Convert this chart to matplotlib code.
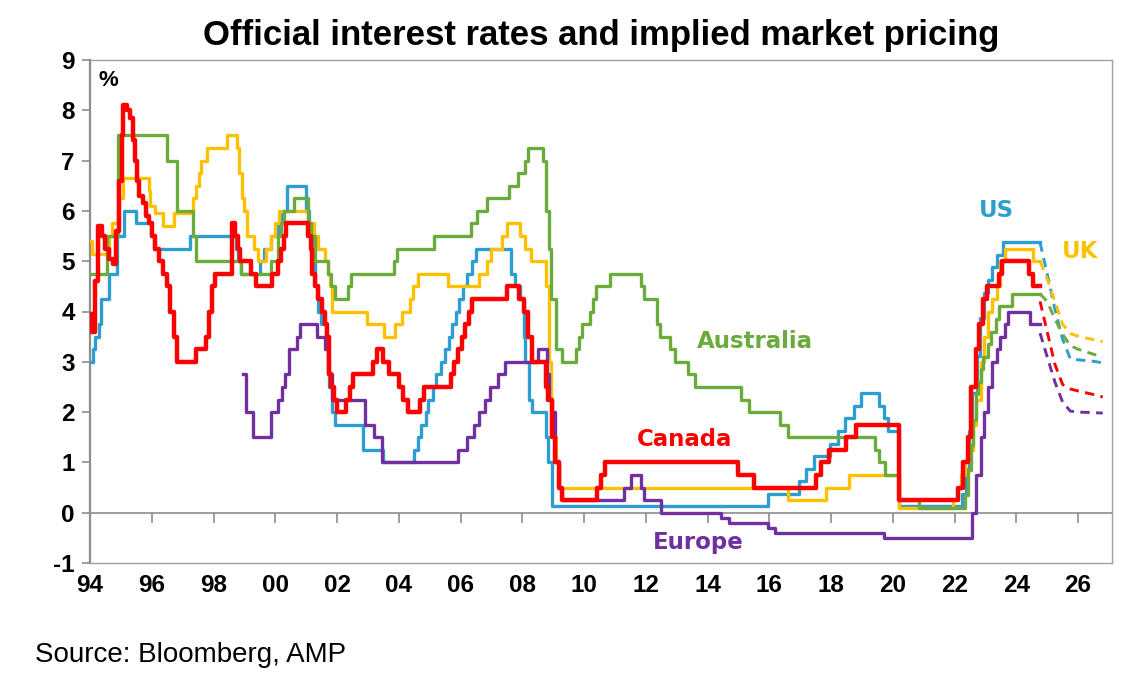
import matplotlib
matplotlib.use('Agg')
import matplotlib.pyplot as plt

plt.rcParams['axes.unicode_minus'] = False

# official rates: time (decimal year) of each change and the new level, %
us_t = [1994.0, 1994.1, 1994.17, 1994.3, 1994.37, 1994.62, 1994.87, 1995.09, 1995.5, 1995.96,
        1996.08, 1997.23, 1998.74, 1998.79, 1998.88, 1999.5, 1999.64, 1999.87, 2000.09, 2000.22,
        2000.38, 2001.0, 2001.08, 2001.22, 2001.3, 2001.38, 2001.49, 2001.64, 2001.71, 2001.75,
        2001.85, 2001.95, 2002.85, 2003.48, 2004.5, 2004.62, 2004.72, 2004.87, 2004.95, 2005.1,
        2005.22, 2005.37, 2005.5, 2005.62, 2005.72, 2005.87, 2005.95, 2006.08, 2006.22, 2006.37,
        2006.5, 2007.65, 2007.77, 2007.92, 2008.05, 2008.1, 2008.22, 2008.3, 2008.78, 2008.83,
        2008.96, 2015.96, 2016.96, 2017.2, 2017.46, 2017.96, 2018.22, 2018.46, 2018.74, 2018.96,
        2019.55, 2019.7, 2019.83, 2020.2, 2022.25, 2022.37, 2022.46, 2022.58, 2022.72, 2022.84,
        2022.96, 2023.08, 2023.22, 2023.37, 2023.58, 2024.77]
us_r = [3.0, 3.25, 3.5, 3.75, 4.25, 4.75, 5.5, 6.0, 5.75, 5.5,
        5.25, 5.5, 5.25, 5.0, 4.75, 5.0, 5.25, 5.5, 5.75, 6.0,
        6.5, 6.0, 5.5, 5.0, 4.5, 4.0, 3.75, 3.5, 3.0, 2.5,
        2.0, 1.75, 1.25, 1.0, 1.25, 1.5, 1.75, 2.0, 2.25, 2.5,
        2.75, 3.0, 3.25, 3.5, 3.75, 4.0, 4.25, 4.5, 4.75, 5.0,
        5.25, 4.75, 4.5, 4.25, 3.5, 3.0, 2.25, 2.0, 1.5, 1.0,
        0.125, 0.375, 0.625, 0.875, 1.125, 1.375, 1.625, 1.875, 2.125, 2.375,
        2.125, 1.875, 1.625, 0.125, 0.375, 0.875, 1.625, 2.375, 3.125, 3.875,
        4.375, 4.625, 4.875, 5.125, 5.375, 5.375]

uk_t = [1994.0, 1994.08, 1994.62, 1994.72, 1994.9, 1995.08, 1995.9, 1995.95, 1996.1, 1996.35,
        1996.72, 1997.32, 1997.42, 1997.52, 1997.6, 1997.8, 1998.45, 1998.75, 1998.83, 1998.92,
        1999.0, 1999.1, 1999.3, 1999.45, 1999.7, 1999.85, 2000.0, 2000.12, 2001.05, 2001.25,
        2001.38, 2001.6, 2001.7, 2001.78, 2001.85, 2002.98, 2003.52, 2003.88, 2004.1, 2004.35,
        2004.45, 2004.62, 2005.6, 2006.6, 2006.85, 2007.0, 2007.35, 2007.5, 2007.92, 2008.1,
        2008.27, 2008.77, 2008.85, 2008.93, 2009.0, 2009.1, 2009.2, 2016.6, 2017.85, 2018.58,
        2020.2, 2021.95, 2022.1, 2022.2, 2022.35, 2022.45, 2022.6, 2022.7, 2022.85, 2022.95,
        2023.1, 2023.22, 2023.37, 2023.47, 2023.62, 2024.55, 2024.77]
uk_r = [5.4, 5.15, 5.5, 5.75, 6.25, 6.65, 6.4, 6.1, 5.95, 5.7,
        5.95, 6.25, 6.5, 6.75, 7.0, 7.25, 7.5, 7.25, 6.75, 6.25,
        6.0, 5.5, 5.25, 5.0, 5.25, 5.5, 5.75, 6.0, 5.75, 5.5,
        5.25, 5.0, 4.75, 4.5, 4.0, 3.75, 3.5, 3.75, 4.0, 4.25,
        4.5, 4.75, 4.5, 4.75, 5.0, 5.25, 5.5, 5.75, 5.5, 5.25,
        5.0, 4.5, 3.0, 2.0, 1.5, 1.0, 0.5, 0.25, 0.5, 0.75,
        0.1, 0.25, 0.5, 0.75, 1.0, 1.25, 1.75, 2.25, 3.0, 3.5,
        4.0, 4.25, 4.5, 5.0, 5.25, 5.0, 5.0]

au_t = [1994.0, 1994.55, 1994.92, 1996.5, 1996.82, 1997.32, 1997.42, 1998.9, 1999.85, 2000.1,
        2000.2, 2000.28, 2000.6, 2001.05, 2001.15, 2001.3, 2001.7, 2001.8, 2001.93, 2002.35,
        2002.45, 2003.85, 2003.95, 2005.15, 2006.33, 2006.55, 2006.85, 2007.58, 2007.85, 2008.08,
        2008.2, 2008.68, 2008.76, 2008.85, 2008.93, 2009.08, 2009.28, 2009.74, 2009.83, 2009.92,
        2010.18, 2010.3, 2010.4, 2010.85, 2011.85, 2011.93, 2012.35, 2012.45, 2012.8, 2012.95,
        2013.37, 2013.6, 2015.1, 2015.35, 2016.35, 2016.6, 2019.42, 2019.55, 2019.75, 2020.2,
        2020.85, 2022.35, 2022.43, 2022.52, 2022.6, 2022.68, 2022.77, 2022.85, 2022.93, 2023.1,
        2023.18, 2023.35, 2023.45, 2023.85, 2024.77]
au_r = [4.75, 5.5, 7.5, 7.0, 6.0, 5.5, 5.0, 4.75, 5.0, 5.5,
        5.75, 6.0, 6.25, 5.75, 5.5, 5.0, 4.75, 4.5, 4.25, 4.5,
        4.75, 5.0, 5.25, 5.5, 5.75, 6.0, 6.25, 6.5, 6.75, 7.0,
        7.25, 7.0, 6.0, 5.25, 4.25, 3.25, 3.0, 3.25, 3.5, 3.75,
        4.0, 4.25, 4.5, 4.75, 4.5, 4.25, 3.75, 3.5, 3.25, 3.0,
        2.75, 2.5, 2.25, 2.0, 1.75, 1.5, 1.25, 1.0, 0.75, 0.25,
        0.1, 0.35, 0.85, 1.35, 1.85, 2.35, 2.6, 2.85, 3.1, 3.35,
        3.6, 3.85, 4.1, 4.35, 4.35]

ca_t = [1994.0, 1994.08, 1994.17, 1994.25, 1994.4, 1994.5, 1994.62, 1994.75, 1994.85, 1994.95,
        1995.03, 1995.08, 1995.2, 1995.3, 1995.38, 1995.45, 1995.52, 1995.6, 1995.72, 1995.82,
        1995.92, 1996.02, 1996.12, 1996.22, 1996.35, 1996.5, 1996.6, 1996.72, 1996.82, 1997.42,
        1997.75, 1997.85, 1997.95, 1998.05, 1998.6, 1998.7, 1998.78, 1998.86, 1999.2, 1999.38,
        1999.88, 2000.1, 2000.2, 2000.28, 2000.34, 2001.05, 2001.15, 2001.2, 2001.3, 2001.38,
        2001.5, 2001.6, 2001.68, 2001.75, 2001.82, 2001.9, 2002.0, 2002.28, 2002.42, 2002.52,
        2003.15, 2003.3, 2003.5, 2003.7, 2004.02, 2004.15, 2004.3, 2004.68, 2004.82, 2005.68,
        2005.8, 2005.92, 2006.05, 2006.15, 2006.28, 2006.36, 2007.5, 2007.9, 2008.05, 2008.2,
        2008.3, 2008.78, 2008.82, 2008.95, 2009.05, 2009.2, 2009.3, 2010.42, 2010.55, 2010.68,
        2015.0, 2015.52, 2017.5, 2017.67, 2017.94, 2018.48, 2018.8, 2020.2, 2022.1, 2022.28,
        2022.43, 2022.53, 2022.68, 2022.8, 2022.93, 2023.05, 2023.43, 2023.55, 2024.42, 2024.55,
        2024.77]
ca_r = [3.95, 3.6, 4.6, 5.7, 5.5, 5.25, 5.05, 4.95, 5.6, 6.6,
        7.5, 8.1, 8.0, 7.85, 7.4, 7.0, 6.6, 6.3, 6.15, 5.9,
        5.75, 5.5, 5.25, 5.0, 4.75, 4.5, 4.0, 3.5, 3.0, 3.25,
        3.5, 4.0, 4.5, 4.75, 5.75, 5.5, 5.25, 5.0, 4.75, 4.5,
        4.75, 5.0, 5.25, 5.5, 5.75, 5.5, 5.25, 4.75, 4.5, 4.25,
        4.0, 3.75, 3.5, 2.75, 2.5, 2.25, 2.0, 2.25, 2.5, 2.75,
        3.0, 3.25, 3.0, 2.75, 2.5, 2.25, 2.0, 2.25, 2.5, 2.75,
        3.0, 3.25, 3.5, 3.75, 4.0, 4.25, 4.5, 4.25, 4.0, 3.5,
        3.0, 2.5, 2.25, 1.5, 1.0, 0.5, 0.25, 0.5, 0.75, 1.0,
        0.75, 0.5, 0.75, 1.0, 1.25, 1.5, 1.75, 0.25, 0.5, 1.0,
        1.5, 2.5, 3.25, 3.75, 4.25, 4.5, 4.75, 5.0, 4.75, 4.5,
        4.5]

eu_t = [1998.97, 1999.05, 1999.28, 1999.85, 2000.1, 2000.22, 2000.32, 2000.45, 2000.7, 2000.8,
        2001.35, 2001.62, 2001.7, 2001.85, 2002.92, 2003.2, 2003.45, 2005.92, 2006.2, 2006.45,
        2006.6, 2006.8, 2006.95, 2007.2, 2007.45, 2008.5, 2008.8, 2008.87, 2008.95, 2009.05,
        2009.2, 2009.3, 2011.28, 2011.52, 2011.85, 2011.95, 2012.5, 2014.45, 2014.7, 2015.95,
        2016.2, 2019.7, 2022.55, 2022.7, 2022.85, 2022.97, 2023.1, 2023.2, 2023.37, 2023.47,
        2023.62, 2023.72, 2024.45, 2024.77]
eu_r = [2.75, 2.0, 1.5, 2.0, 2.25, 2.5, 2.75, 3.25, 3.5, 3.75,
        3.5, 3.25, 2.75, 2.25, 1.75, 1.5, 1.0, 1.25, 1.5, 1.75,
        2.0, 2.25, 2.5, 2.75, 3.0, 3.25, 2.75, 2.25, 2.0, 1.0,
        0.5, 0.25, 0.5, 0.75, 0.5, 0.25, 0.0, -0.1, -0.2, -0.3,
        -0.4, -0.5, 0.0, 0.75, 1.5, 2.0, 2.5, 3.0, 3.25, 3.5,
        3.75, 4.0, 3.75, 3.75]

# implied market pricing (dashed)
fc_t = [2024.77, 2025.0, 2025.25, 2025.5, 2025.75, 2026.0, 2026.5, 2026.8]
us_fc = [5.37, 4.75, 4.05, 3.45, 3.06, 3.04, 3.01, 2.98]
uk_fc = [5.0, 4.65, 4.2, 3.75, 3.56, 3.51, 3.44, 3.4]
au_fc = [4.35, 4.2, 3.85, 3.55, 3.32, 3.25, 3.15, 3.1]
ca_fc = [4.2, 3.6, 2.95, 2.55, 2.46, 2.42, 2.35, 2.3]
eu_fc = [3.57, 3.1, 2.6, 2.2, 2.02, 2.0, 1.99, 1.98]

years = list(range(1994, 2027, 2))
year_labels = ['%02d' % (y % 100) for y in years]

blue = '#2e9dd0'
yellow = '#ffc000'
green = '#6aab3c'
red = '#ff0000'
purple = '#7030a0'
grey = '#8c8c8c'

fig = plt.figure(figsize=(11.44, 6.91), dpi=100)
ax = fig.add_axes([90/1144, 1-563/691, 1022/1144, 503/691])

series = [
    (us_t, us_r, us_fc, blue, 2.4),
    (uk_t, uk_r, uk_fc, yellow, 2.4),
    (au_t, au_r, au_fc, green, 2.4),
    (eu_t, eu_r, eu_fc, purple, 2.4),
    (ca_t, ca_r, ca_fc, red, 3.2),
]
for i, (t, r, fc, col, lw) in enumerate(series):
    ax.step(t, r, where='post', color=col, lw=lw, zorder=3+i)
    ax.plot(fc_t, fc, color=col, lw=2.1, ls=(0, (3.2, 2.2)), zorder=3+i)

ax.set_xlim(1994, 2027.1)
ax.set_ylim(-1, 9)
ax.set_xticks(years)
ax.set_xticklabels(year_labels)
ax.set_yticks(range(-1, 10))

tickfont = {'family': 'Liberation Sans', 'weight': 'bold', 'size': 17.5}
for lab in ax.get_xticklabels() + ax.get_yticklabels():
    lab.set_fontproperties(tickfont)
ax.tick_params(axis='x', length=0, pad=8)
ax.tick_params(axis='y', length=6, width=1.2, color=grey, pad=5, direction='out')

for s in ax.spines.values():
    s.set_color('#a0a0a0')
    s.set_linewidth(1.0)
ax.spines['left'].set_color(grey)
ax.spines['left'].set_linewidth(1.6)

# zero line with the year ticks hanging below it
zero = ax.secondary_xaxis(0.1)
zero.set_xticks(years)
zero.tick_params(length=7, width=1.2, color=grey, labelbottom=False, labeltop=False)
zero.spines['bottom'].set_color(grey)
zero.spines['bottom'].set_linewidth(1.2)
zero.set_zorder(2)

lab_font = dict(family='DejaVu Sans', weight='bold', size=16.5, ha='center', va='center')
ax.text(2023.35, 6.0, 'US', color=blue, **lab_font)
ax.text(2026.07, 5.2, 'UK', color=yellow, **lab_font)
ax.text(2015.52, 3.41, 'Australia', color=green, **lab_font)
ax.text(2013.27, 1.45, 'Canada', color=red, **lab_font)
ax.text(2013.7, -0.6, 'Europe', color=purple, **lab_font)
ax.text(0.0176, 0.96, '%', transform=ax.transAxes, family='Liberation Sans',
        weight='bold', size=16, ha='center', va='center')

fig.text(601/1144, 1-35/691, 'Official interest rates and implied market pricing',
         family='Liberation Sans', weight='bold', size=25, ha='center', va='center')
fig.text(35/1144, 1-655/691, 'Source: Bloomberg, AMP', family='Liberation Sans',
         size=20, ha='left', va='center')

fig.savefig('out.png', dpi=100)
